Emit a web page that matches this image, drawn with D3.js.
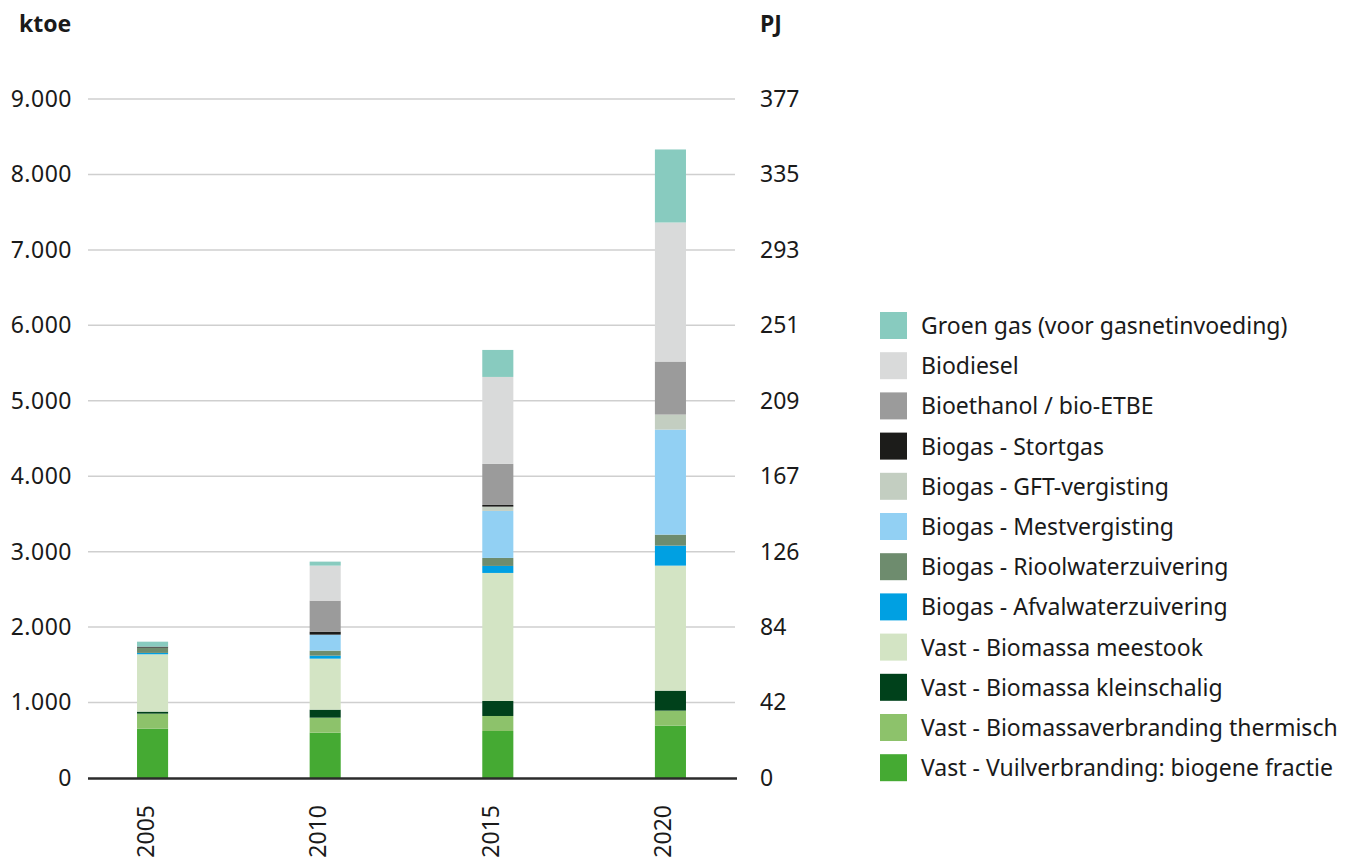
<!DOCTYPE html>
<html>
<head>
<meta charset="utf-8">
<script src="https://cdn.jsdelivr.net/npm/d3@7"></script>
<style>
  body { margin: 0; background: #fff; }
  svg text { font-family: "Noto Sans", sans-serif; fill: #1a1a1a; }
</style>
</head>
<body>
<div id="canvas"></div>
<script>
// data (ktoe)
var years = ['2005', '2010', '2015', '2020'];

var series = [
  'Vast - Vuilverbranding: biogene fractie',
  'Vast - Biomassaverbranding thermisch',
  'Vast - Biomassa kleinschalig',
  'Vast - Biomassa meestook',
  'Biogas - Afvalwaterzuivering',
  'Biogas - Rioolwaterzuivering',
  'Biogas - Mestvergisting',
  'Biogas - GFT-vergisting',
  'Biogas - Stortgas',
  'Bioethanol / bio-ETBE',
  'Biodiesel',
  'Groen gas (voor gasnetinvoeding)'
];

var colors = ['#45aa33', '#8dc26b', '#00411b', '#d3e4c4', '#00a0e2', '#6e8c6e',
              '#92d0f3', '#c3cec1', '#1c1c1a', '#9b9b9b', '#d9dada', '#88cbbf'];

var vuil      = [654, 601, 623, 694];
var thermisch = [199, 199, 199, 199];
var klein     = [27, 106, 199, 265];
var meestook  = [760, 676, 1697, 1657];
var afval     = [18, 40, 93, 265];
var riool     = [70, 66, 106, 146];
var mest      = [0, 212, 623, 1392];
var gft       = [0, 0, 57, 199];
var stortgas  = [13, 40, 22, 0];
var ethanol   = [0, 411, 544, 703];
var diesel    = [0, 464, 1153, 1843];
var groengas  = [66, 53, 358, 968];

var yTicks = [0, 1000, 2000, 3000, 4000, 5000, 6000, 7000, 8000, 9000];
var pjLabels = ['0', '42', '84', '126', '167', '209', '251', '293', '335', '377'];

// build table for d3.stack
var cols = [vuil, thermisch, klein, meestook, afval, riool, mest, gft, stortgas, ethanol, diesel, groengas];
var table = years.map(function(y, i) {
  var row = { year: y };
  series.forEach(function(s, j) { row[s] = cols[j][i]; });
  return row;
});

var W = 1354, H = 859;
var svg = d3.select('#canvas').append('svg')
  .attr('width', W)
  .attr('height', H);

var x0 = 88, x1 = 735, yBase = 778, yTop = 99;

var scaleX = d3.scaleBand()
  .domain(years)
  .range([x0, x1])
  .paddingInner(0.82)
  .paddingOuter(0.284);

var scaleY = d3.scaleLinear()
  .domain([0, 9000])
  .range([yBase, yTop]);

// gridlines
svg.append('g').selectAll('line').data(yTicks.slice(1)).enter()
  .append('line')
  .attr('x1', x0).attr('x2', x1)
  .attr('y1', function(d) { return scaleY(d); })
  .attr('y2', function(d) { return scaleY(d); })
  .style('stroke', '#cfcfcf')
  .style('stroke-width', 1.5);

// left axis labels
var fmt = function(d) { return d3.format(',')(d).replace(/,/g, '.'); };
var yAxis = d3.axisLeft(scaleY).tickValues(yTicks).tickFormat(fmt).tickSize(0).tickPadding(16);
var gl = svg.append('g').attr('transform', 'translate(' + x0 + ',0)').call(yAxis);
gl.select('.domain').remove();
gl.selectAll('text').style('font-size', '23px').style('letter-spacing', '0.5px')
  .style('font-family', '"Noto Sans", sans-serif').attr('fill', '#1a1a1a');

// right axis labels (PJ)
var yAxisR = d3.axisRight(scaleY).tickValues(yTicks)
  .tickFormat(function(d, i) { return pjLabels[i]; }).tickSize(0).tickPadding(25);
var gr = svg.append('g').attr('transform', 'translate(' + x1 + ',0)').call(yAxisR);
gr.select('.domain').remove();
gr.selectAll('text').style('font-size', '23px')
  .style('font-family', '"Noto Sans", sans-serif').attr('fill', '#1a1a1a');

// unit labels
svg.append('text').attr('x', 19).attr('y', 32).text('ktoe')
  .style('font-size', '23px').style('font-weight', 'bold');
svg.append('text').attr('x', 760).attr('y', 32).text('PJ')
  .style('font-size', '23px').style('font-weight', 'bold');

// stacked bars
var stack = d3.stack().keys(series);
var layers = stack(table);

svg.append('g').selectAll('g').data(layers).enter()
  .append('g')
  .style('fill', function(d, i) { return colors[i]; })
  .selectAll('rect').data(function(d) { return d; }).enter()
  .append('rect')
  .attr('x', function(d) { return scaleX(d.data.year); })
  .attr('width', scaleX.bandwidth())
  .attr('y', function(d) { return scaleY(d[1]); })
  .attr('height', function(d) { return scaleY(d[0]) - scaleY(d[1]); });

// baseline
svg.append('line')
  .attr('x1', x0).attr('x2', 737)
  .attr('y1', yBase + 0.5).attr('y2', yBase + 0.5)
  .style('stroke', '#2b2b2b')
  .style('stroke-width', 2.5);

// year labels, rotated
svg.append('g').selectAll('text').data(years).enter()
  .append('text')
  .attr('transform', function(d) {
    return 'translate(' + (scaleX(d) + scaleX.bandwidth() / 2 + 1) + ',805) rotate(-90)';
  })
  .attr('text-anchor', 'end')
  .style('font-size', '23px')
  .text(function(d) { return d; });

// legend (top to bottom reversed order of stack)
var legendItems = series.slice().reverse();
var legendColors = colors.slice().reverse();
var lg = svg.append('g').attr('transform', 'translate(880,312)');
var item = lg.selectAll('g').data(legendItems).enter()
  .append('g')
  .attr('transform', function(d, i) { return 'translate(0,' + (i * 40.2) + ')'; });
item.append('rect')
  .attr('width', 27).attr('height', 27)
  .style('fill', function(d, i) { return legendColors[i]; });
item.append('text')
  .attr('x', 41).attr('y', 22)
  .style('font-size', '23px')
  .text(function(d) { return d; });
</script>
</body>
</html>
